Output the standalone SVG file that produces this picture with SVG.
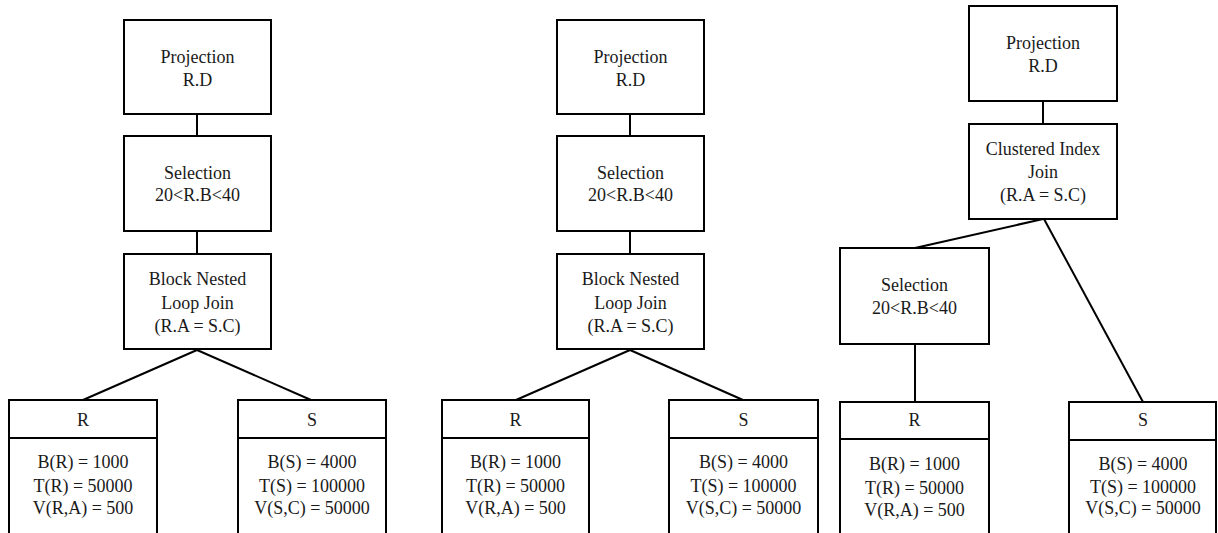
<svg xmlns="http://www.w3.org/2000/svg" width="1218" height="533" viewBox="0 0 1218 533">
<style>
.b{fill:#fff;stroke:#000;stroke-width:2}
.c{stroke:#000;stroke-width:2;fill:none}
.t text{font-family:'Liberation Serif','DejaVu Serif',serif;font-size:18px;fill:#1a1a1a;text-anchor:middle}
</style>
<rect width="1218" height="533" fill="#fff"/>
<g id="connectors">
<line class="c" x1="197" y1="114" x2="197" y2="136"/>
<line class="c" x1="197" y1="231" x2="197" y2="254"/>
<line class="c" x1="197" y1="350" x2="83" y2="400"/>
<line class="c" x1="197" y1="350" x2="311" y2="400"/>
<line class="c" x1="630" y1="114" x2="630" y2="136"/>
<line class="c" x1="630" y1="231" x2="630" y2="254"/>
<line class="c" x1="630" y1="350" x2="516" y2="400"/>
<line class="c" x1="630" y1="350" x2="743" y2="400"/>
<line class="c" x1="1043" y1="101" x2="1043" y2="124"/>
<line class="c" x1="1043" y1="219" x2="915" y2="248"/>
<line class="c" x1="1044" y1="219" x2="1143" y2="402"/>
<line class="c" x1="915" y1="344" x2="915" y2="402"/>
</g>
<g class="t">
<g id="t1-proj"><rect class="b" x="124" y="20" width="147" height="94"/><text x="197.5" y="63">Projection</text><text x="197.5" y="86">R.D</text></g>
<g id="t1-sel"><rect class="b" x="124" y="136" width="147" height="95"/><text x="197.5" y="179">Selection</text><text x="197.5" y="201">20&lt;R.B&lt;40</text></g>
<g id="t1-join"><rect class="b" x="124" y="254" width="147" height="95"/><text x="197.5" y="285">Block Nested</text><text x="197.5" y="309">Loop Join</text><text x="197.5" y="332">(R.A = S.C)</text></g>
<g id="t1-R"><rect class="b" x="9" y="400" width="148" height="145"/><line class="c" x1="9" y1="438" x2="157" y2="438"/><text x="83" y="426">R</text><text x="83" y="468">B(R) = 1000</text><text x="83" y="492">T(R) = 50000</text><text x="83" y="514">V(R,A) = 500</text></g>
<g id="t1-S"><rect class="b" x="238" y="400" width="148" height="145"/><line class="c" x1="238" y1="438" x2="386" y2="438"/><text x="312" y="426">S</text><text x="312" y="468">B(S) = 4000</text><text x="312" y="492">T(S) = 100000</text><text x="312" y="514">V(S,C) = 50000</text></g>
<g id="t2-proj"><rect class="b" x="557" y="20" width="147" height="94"/><text x="630.5" y="63">Projection</text><text x="630.5" y="86">R.D</text></g>
<g id="t2-sel"><rect class="b" x="557" y="136" width="147" height="95"/><text x="630.5" y="179">Selection</text><text x="630.5" y="201">20&lt;R.B&lt;40</text></g>
<g id="t2-join"><rect class="b" x="557" y="254" width="147" height="95"/><text x="630.5" y="285">Block Nested</text><text x="630.5" y="309">Loop Join</text><text x="630.5" y="332">(R.A = S.C)</text></g>
<g id="t2-R"><rect class="b" x="442" y="400" width="147" height="145"/><line class="c" x1="442" y1="438" x2="589" y2="438"/><text x="515.5" y="426">R</text><text x="515.5" y="468">B(R) = 1000</text><text x="515.5" y="492">T(R) = 50000</text><text x="515.5" y="514">V(R,A) = 500</text></g>
<g id="t2-S"><rect class="b" x="669" y="400" width="149" height="145"/><line class="c" x1="669" y1="438" x2="818" y2="438"/><text x="743.5" y="426">S</text><text x="743.5" y="468">B(S) = 4000</text><text x="743.5" y="492">T(S) = 100000</text><text x="743.5" y="514">V(S,C) = 50000</text></g>
<g id="t3-proj"><rect class="b" x="969" y="6" width="148" height="95"/><text x="1043" y="49">Projection</text><text x="1043" y="72">R.D</text></g>
<g id="t3-join"><rect class="b" x="969" y="124" width="148" height="95"/><text x="1043" y="155">Clustered Index</text><text x="1043" y="178">Join</text><text x="1043" y="201">(R.A = S.C)</text></g>
<g id="t3-sel"><rect class="b" x="840" y="248" width="149" height="96"/><text x="914.5" y="291">Selection</text><text x="914.5" y="314">20&lt;R.B&lt;40</text></g>
<g id="t3-R"><rect class="b" x="840" y="402" width="149" height="145"/><line class="c" x1="840" y1="439" x2="989" y2="439"/><text x="914.5" y="426">R</text><text x="914.5" y="470">B(R) = 1000</text><text x="914.5" y="494">T(R) = 50000</text><text x="914.5" y="516">V(R,A) = 500</text></g>
<g id="t3-S"><rect class="b" x="1069" y="402" width="147" height="145"/><line class="c" x1="1069" y1="440" x2="1216" y2="440"/><text x="1143" y="426">S</text><text x="1143" y="470">B(S) = 4000</text><text x="1143" y="493">T(S) = 100000</text><text x="1143" y="514">V(S,C) = 50000</text></g>
</g>
</svg>
